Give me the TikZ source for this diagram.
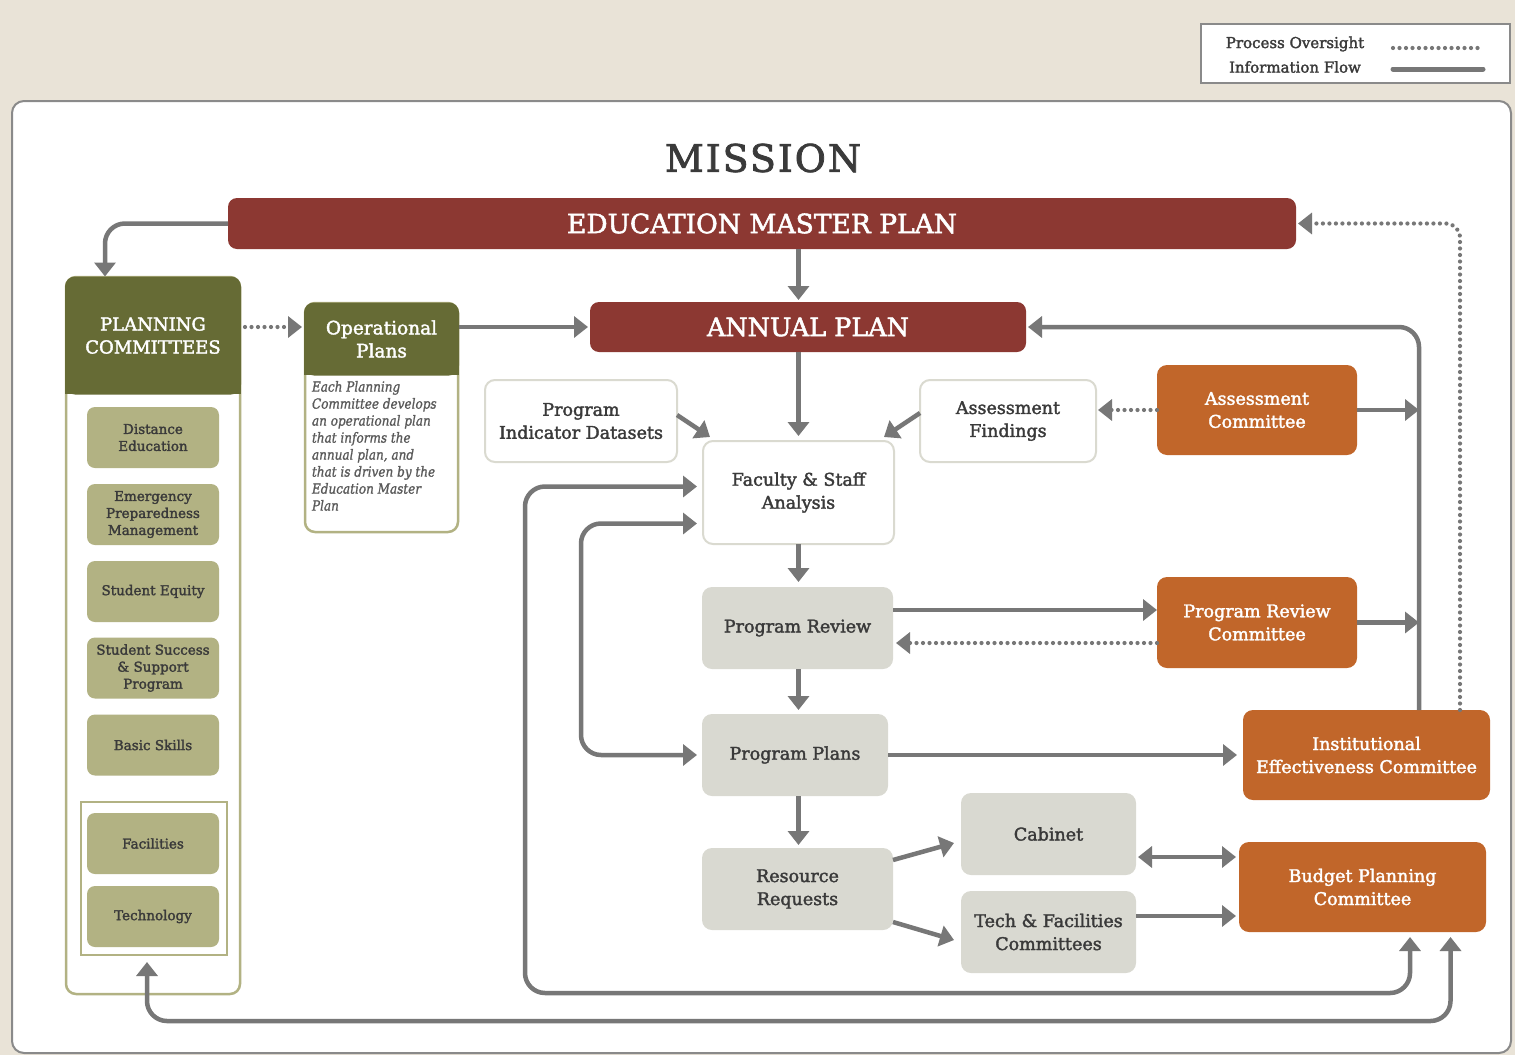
\documentclass[tikz,border=0pt]{standalone}
\usepackage{fontspec}
\setmainfont{DejaVu Serif}[FakeBold=2]
\newfontfamily\missionfont{DejaVu Serif}[LetterSpace=5,FakeBold=2]
\newfontfamily\opfont{DejaVu Serif}[FakeStretch=0.86,FakeBold=1.2]
\usetikzlibrary{arrows.meta,calc}
\definecolor{bgbeige}{HTML}{E9E3D7}
\definecolor{emred}{HTML}{8C3832}
\definecolor{olive}{HTML}{666B35}
\definecolor{olivelt}{HTML}{B2B283}
\definecolor{orng}{HTML}{C1662A}
\definecolor{gbx}{HTML}{D9D9D1}
\definecolor{brd}{HTML}{DADAD0}
\definecolor{arr}{HTML}{777777}
\definecolor{txt}{HTML}{3A3A3A}
\definecolor{itx}{HTML}{5A5A5A}
\definecolor{panel}{HTML}{8A8A8A}
\newcommand\fs[2]{\fontsize{#1}{#2}\selectfont}
\tikzset{
 base/.style={inner sep=0pt, outer sep=0pt, align=center},
 redbar/.style={base, fill=emred, rounded corners=9pt, text=white},
 sub/.style={base, fill=olivelt, rounded corners=8pt, minimum width=132pt, minimum height=61pt, text=txt, font=\fs{13.5}{17}},
 wbox/.style={base, fill=white, draw=brd, line width=2pt, rounded corners=10pt, text=txt, font=\fs{17.5}{23}},
 gbox/.style={base, fill=gbx, rounded corners=10pt, text=txt, font=\fs{17.5}{23}},
 obox/.style={base, fill=orng, rounded corners=10pt, text=white, font=\fs{17.5}{23}},
 tip/.style={-{Triangle[width=21pt,length=14pt]}},
 flow/.style={draw=arr, line width=4.5pt, tip, rounded corners=20pt},
 dflow/.style={draw=arr, line width=4.2pt, dash pattern=on 0pt off 6.5pt, line cap=round, tip, rounded corners=14pt},
}
\begin{document}
\begin{tikzpicture}[x=1pt,y=-1pt]
\useasboundingbox (0,0) rectangle (1515,1055);
\fill[bgbeige] (0,0) rectangle (1515,1055);
% main panel
\draw[fill=white, draw=panel, line width=2pt, rounded corners=12pt] (12,101) rectangle (1511,1053);
% legend
\node[base, draw=panel, fill=white, line width=2pt, minimum width=309pt, minimum height=59pt] (legend) at (1355.5,53.5) {};
\node[base, text=txt, font=\fs{15}{18}] (lg1) at (1295,44) {Process Oversight};
\node[base, text=txt, font=\fs{15}{18}] (lg2) at (1295,67) {Information Flow};
\draw[dflow,-] (1393,48) -- (1483,48);
\draw[draw=arr, line width=5pt, line cap=round] (1393,69) -- (1483,69);
% title
\node[base, text=txt, font=\missionfont\fs{38}{44}] (mission) at (763,158) {MISSION};
% red bars
\node[redbar, minimum width=1068pt, minimum height=51pt, font=\fs{26.5}{30}] (emp) at (762,223.5) {EDUCATION MASTER PLAN};
\node[redbar, minimum width=436pt, minimum height=50pt, font=\fs{25.5}{30}] (ap) at (808,327) {ANNUAL PLAN};
% planning committees
\node[base, draw=olivelt, line width=2.5pt, fill=white, rounded corners=10pt, minimum width=174pt, minimum height=717pt] (pcbox) at (153,635.5) {};
\fill[olive] (65,340) rectangle (241,394);
\node[base, fill=olive, rounded corners=10pt, minimum width=176pt, minimum height=118pt, text=white, font=\fs{18}{23}] (pch) at (153,335.5) {PLANNING\\COMMITTEES};
\node[sub] (de) at (153,437.5) {Distance\\Education};
\node[sub] (epm) at (153,514.5) {Emergency\\Preparedness\\Management};
\node[sub] (se) at (153,591.5) {Student Equity};
\node[sub] (sss) at (153,668) {Student Success\\\& Support\\Program};
\node[sub] (bs) at (153,745) {Basic Skills};
\node[base, draw=olivelt, line width=2.5pt, minimum width=146pt, minimum height=153pt] (ft) at (154,878.5) {};
\node[sub] (fac) at (153,843.5) {Facilities};
\node[sub] (tec) at (153,916.5) {Technology};
% operational plans
\node[base, draw=olivelt, line width=2.5pt, fill=white, rounded corners=10pt, minimum width=153pt, minimum height=229pt] (opbox) at (381.5,417.5) {};
\fill[olive] (304,350) rectangle (459,375);
\node[base, fill=olive, rounded corners=10pt, minimum width=155pt, minimum height=73pt, text=white, font=\fs{18.5}{23}] (op) at (381.5,339) {Operational\\Plans};
\node[base, anchor=north west, align=left, text=itx, font=\opfont\itshape\fs{14}{17}] (optext) at (312,381)
 {Each Planning\\Committee develops\\an operational plan\\that informs the\\annual plan, and\\that is driven by the\\Education Master\\Plan};
% white boxes
\node[wbox, minimum width=192pt, minimum height=82pt] (pid) at (581,421) {Program\\Indicator Datasets};
\node[wbox, minimum width=176pt, minimum height=82pt] (af) at (1008,421) {Assessment\\Findings};
\node[wbox, minimum width=191pt, minimum height=103pt] (fsa) at (798.5,492.5) {Faculty \& Staff\\Analysis};
% gray boxes
\node[gbox, minimum width=191pt, minimum height=82pt] (pr) at (797.5,628) {Program Review};
\node[gbox, minimum width=186pt, minimum height=82pt] (pp) at (795,755) {Program Plans};
\node[gbox, minimum width=191pt, minimum height=82pt] (rr) at (797.5,889) {Resource\\Requests};
\node[gbox, minimum width=175pt, minimum height=82pt] (cab) at (1048.5,834) {Cabinet};
\node[gbox, minimum width=175pt, minimum height=82pt] (tech) at (1048.5,932) {Tech \& Facilities\\Committees};
% orange boxes
\node[obox, minimum width=200pt, minimum height=90pt] (ac) at (1257,410) {Assessment\\Committee};
\node[obox, minimum width=200pt, minimum height=91pt] (prc) at (1257,622.5) {Program Review\\Committee};
\node[obox, minimum width=247pt, minimum height=90pt] (iec) at (1366.5,755) {Institutional\\Effectiveness Committee};
\node[obox, minimum width=247pt, minimum height=90pt] (bpc) at (1362.5,887) {Budget Planning\\Committee};
% helper coordinates
\coordinate (rv) at (1419,0);
\coordinate (dv) at (1460,0);
\coordinate (l1) at (525,993);
\coordinate (l2) at (581,0);
\coordinate (l3) at (0,1021);
% connectors
\draw[flow] (emp.west) -| ([xshift=-48pt]pch.north);
\draw[flow, shorten >=2pt] (emp.south -| fsa.north) -- (ap.north -| fsa.north);
\draw[dflow, shorten <=4pt, shorten >=2pt] (pch.east |- ap.west) -- (op.west |- ap.west);
\draw[flow, shorten >=2pt] (op.east |- ap.west) -- (ap.west);
\draw[flow, shorten >=5pt] (ap.south -| fsa.north) -- (fsa.north);
\draw[flow] ([yshift=6pt]pid.east) -- ([xshift=7pt,yshift=4pt]fsa.north west);
\draw[flow] ([yshift=8pt]af.west) -- ([xshift=-10pt,yshift=4pt]fsa.north east);
\draw[dflow, shorten >=2pt] (ac.west) -- (ac.west -| af.east);
\draw[flow] (ac.east) -- (ac.east -| rv);
\draw[flow, shorten >=2pt] (iec.north -| rv) |- (ap.east);
\draw[dflow, shorten >=2pt] (iec.north -| dv) |- (emp.east);
\draw[flow, shorten >=5pt] (fsa.south) -- (pr.north -| fsa.south);
\draw[flow] ([yshift=18pt]pr.east) -- ([yshift=18pt]pr.east -| prc.west);
\draw[dflow, shorten >=3pt] ([yshift=-15pt]pr.east -| prc.west) -- ([yshift=-15pt]pr.east);
\draw[flow] (prc.east) -- (prc.east -| rv);
\draw[flow, shorten >=4pt] (pr.south -| fsa.south) -- (pp.north -| fsa.south);
\draw[flow, shorten >=6pt] (pp.east) -- (pp.east -| iec.west);
\draw[flow, shorten >=3pt] (pp.south -| fsa.south) -- (rr.north -| fsa.south);
\draw[flow] ([yshift=-12pt]rr.north east) -- ([xshift=-7pt,yshift=-9pt]cab.west);
\draw[flow] ([yshift=8pt]rr.south east) -- ([xshift=-7pt,yshift=-8pt]tech.west);
\draw[flow, {Triangle[width=21pt,length=14pt]}-{Triangle[width=21pt,length=14pt]}, shorten <=2pt, shorten >=3pt] ([yshift=-23pt]cab.east) -- ([yshift=-23pt]cab.east -| bpc.west);
\draw[flow, shorten >=3pt] ([yshift=16pt]tech.east) -- ([yshift=16pt]tech.east -| bpc.west);
\draw[flow, {Triangle[width=21pt,length=14pt]}-{Triangle[width=21pt,length=14pt]}, shorten <=6pt, shorten >=5pt] ([yshift=6pt]fsa.west) -| (l1) -| ([xshift=47.5pt]bpc.south);
\draw[flow, {Triangle[width=21pt,length=14pt]}-{Triangle[width=21pt,length=14pt]}, shorten <=6pt, shorten >=5pt] ([yshift=-31pt]fsa.west) -| (l2 |- pp.west) -- (pp.west);
\draw[flow, {Triangle[width=21pt,length=14pt]}-{Triangle[width=21pt,length=14pt]}, shorten <=7pt, shorten >=5pt] ([xshift=-7pt]ft.south) |- ([xshift=88pt]bpc.south |- l3) -- ([xshift=88pt]bpc.south);
\end{tikzpicture}
\end{document}
